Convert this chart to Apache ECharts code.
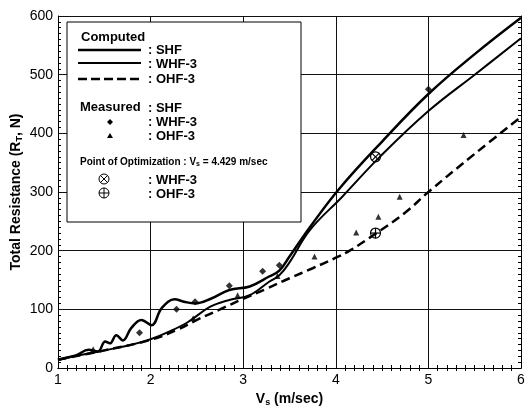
<!DOCTYPE html>
<html>
<head>
<meta charset="utf-8">
<script src="https://cdn.jsdelivr.net/npm/echarts@6/dist/echarts.min.js"></script>
<style>
  html, body { margin: 0; padding: 0; background: #fff; }
  #my_chart { width: 529px; height: 408px; }
</style>
</head>
<body>
<div id="my_chart"></div>
<script>
// computed curves
var shfX = [1.0, 1.1, 1.2, 1.33, 1.43, 1.51, 1.56, 1.63, 1.70, 1.79, 1.90, 2.01, 2.12, 2.26, 2.36, 2.48, 2.65, 2.85, 3.07, 3.28, 3.39, 3.5, 3.72, 4.04, 4.5, 5.0, 5.5, 6.0];
var shfY = [14, 18, 22, 31, 28, 45, 42, 56, 47, 68, 82, 73, 102, 117, 113, 110, 118, 133, 139, 156, 166, 190, 240, 306, 386, 467, 535, 597];
var whfX = [1.0, 1.2, 1.4, 1.6, 1.8, 2.0, 2.2, 2.4, 2.64, 2.85, 3.07, 3.28, 3.39, 3.5, 3.72, 4.07, 4.47, 5.0, 5.5, 6.0];
var whfY = [14, 21, 27, 33, 40, 49, 62, 78, 104, 116, 124, 147, 158, 180, 235, 292, 359, 438, 500, 562];
var ohfX = [1.0, 1.5, 2.0, 2.3, 2.5, 2.75, 3.0, 3.25, 3.5, 3.75, 4.0, 4.15, 4.43, 4.75, 5.0, 5.5, 6.0];
var ohfY = [14, 30, 48, 66, 82, 100, 118, 135, 153, 170, 188, 200, 229, 265, 300, 365, 428];

// measured
var whfMx = [1.88, 2.28, 2.48, 2.85, 3.21, 3.39, 5.0];
var whfMy = [60, 100, 113, 140, 165, 175, 475];
var ohfMx = [1.38, 2.46, 2.94, 3.37, 3.77, 4.22, 4.46, 4.69, 5.38];
var ohfMy = [32, 85, 124, 157, 190, 231, 258, 292, 397];

// point of optimization (Vs = 4.429)
var optX = 4.429;
var optWhf = 360;
var optOhf = 230;

var xTicks = [1, 2, 3, 4, 5, 6];
var yTicks = [0, 100, 200, 300, 400, 500, 600];

function pairs(xs, ys) {
    var out = [];
    for (var i = 0; i < xs.length; i++) out.push([xs[i], ys[i]]);
    return out;
}

var FONT = 'Liberation Sans, Arial, sans-serif';

function axisBase(pos, min, max, interval, minorN, showLabel) {
    return {
        type: 'value', position: pos, min: min, max: max, interval: interval,
        axisLine: { show: true, lineStyle: { color: '#000', width: 1 } },
        axisTick: { show: false, inside: true },
        minorTick: { show: true, splitNumber: minorN, length: 3, lineStyle: { color: '#000', width: 1 } },
        splitLine: { show: showLabel, lineStyle: { color: '#111', width: 1 } },
        axisLabel: { show: showLabel, color: '#000', fontSize: 14, fontFamily: FONT, margin: 5 }
    };
}

var myChart = echarts.init(document.getElementById('my_chart'), null, { renderer: 'canvas' });

var xMain = axisBase('bottom', xTicks[0], xTicks[xTicks.length - 1], 1, 10, true);
xMain.name = '{b|V}{s|s}{b| (m/sec)}';
xMain.nameLocation = 'middle';
xMain.nameGap = 21;
xMain.nameTextStyle = {
    rich: {
        b: { fontSize: 14, fontWeight: 'bold', fontFamily: FONT, color: '#000' },
        s: { fontSize: 9, fontWeight: 'bold', fontFamily: FONT, color: '#000', padding: [7, 0, 0, 0] }
    }
};
var xTop = axisBase('top', xTicks[0], xTicks[xTicks.length - 1], 1, 10, false);

var yMain = axisBase('left', yTicks[0], yTicks[yTicks.length - 1], 100, 10, true);
yMain.name = '{b|Total Resistance (R}{s|T}{b|, N)}';
yMain.nameLocation = 'middle';
yMain.nameGap = 34;
yMain.nameMoveOverlap = false;
yMain.nameTextStyle = {
    rich: {
        b: { fontSize: 14, fontWeight: 'bold', fontFamily: FONT, color: '#000' },
        s: { fontSize: 9, fontWeight: 'bold', fontFamily: FONT, color: '#000', padding: [7, 0, 0, 0] }
    }
};
var yRight = axisBase('right', yTicks[0], yTicks[yTicks.length - 1], 100, 10, false);

// legend block drawn by hand (matches the printed key)
var LX = 67, LY = 22;
function txt(x, y, s, size, rich) {
    var st = { x: x, y: y, text: s, fill: '#000', font: 'bold ' + size + 'px ' + FONT, verticalAlign: 'middle' };
    if (rich) st.rich = rich;
    return { type: 'text', z: 100, style: st };
}
var subRich = {
    n: { fontSize: 10, fontWeight: 'bold', fontFamily: FONT, fill: '#000' },
    s: { fontSize: 7, fontWeight: 'bold', fontFamily: FONT, fill: '#000', padding: [5, 0, 0, 0] }
};
var legendGraphic = [
    { type: 'rect', z: 99, shape: { x: LX, y: LY, width: 234, height: 200 },
      style: { fill: '#fff', stroke: '#000', lineWidth: 1 } },
    txt(81, 37, 'Computed', 13),
    { type: 'line', z: 100, shape: { x1: 78, y1: 50, x2: 141, y2: 50 }, style: { stroke: '#000', lineWidth: 2.5 } },
    { type: 'line', z: 100, shape: { x1: 78, y1: 63, x2: 141, y2: 63 }, style: { stroke: '#000', lineWidth: 2 } },
    { type: 'line', z: 100, shape: { x1: 78, y1: 79, x2: 141, y2: 79 }, style: { stroke: '#000', lineWidth: 2.5, lineDash: [9, 4] } },
    txt(148, 50, ': SHF', 13),
    txt(148, 64, ': WHF-3', 13),
    txt(148, 79, ': OHF-3', 13),
    txt(80, 107, 'Measured', 13),
    txt(148, 108, ': SHF', 13),
    { type: 'polygon', z: 100, shape: { points: [[110, 119], [113, 122], [110, 125], [107, 122]] }, style: { fill: '#000' } },
    txt(148, 122, ': WHF-3', 13),
    { type: 'polygon', z: 100, shape: { points: [[110, 133], [113, 138], [107, 138]] }, style: { fill: '#000' } },
    txt(148, 136, ': OHF-3', 13),
    { type: 'text', z: 100, style: { x: 80, y: 162, verticalAlign: 'middle',
        text: '{n|Point of Optimization : V}{s|s}{n| = 4.429 m/sec}', rich: subRich } },
    { type: 'circle', z: 100, shape: { cx: 104, cy: 179, r: 5 }, style: { fill: 'none', stroke: '#000', lineWidth: 1 } },
    { type: 'line', z: 100, shape: { x1: 100.5, y1: 175.5, x2: 107.5, y2: 182.5 }, style: { stroke: '#000', lineWidth: 1 } },
    { type: 'line', z: 100, shape: { x1: 107.5, y1: 175.5, x2: 100.5, y2: 182.5 }, style: { stroke: '#000', lineWidth: 1 } },
    txt(148, 180, ': WHF-3', 13),
    { type: 'circle', z: 100, shape: { cx: 104, cy: 193, r: 5 }, style: { fill: 'none', stroke: '#000', lineWidth: 1 } },
    { type: 'line', z: 100, shape: { x1: 99, y1: 193, x2: 109, y2: 193 }, style: { stroke: '#000', lineWidth: 1 } },
    { type: 'line', z: 100, shape: { x1: 104, y1: 188, x2: 104, y2: 198 }, style: { stroke: '#000', lineWidth: 1 } },
    txt(148, 194, ': OHF-3', 13)
];

function optMark(params, api) {
    var p = api.coord([api.value(0), api.value(1)]);
    var r = 5, d = 3.5;
    var kids = [
        { type: 'circle', shape: { cx: p[0], cy: p[1], r: r }, style: { fill: 'none', stroke: '#000', lineWidth: 1.2 } }
    ];
    if (api.value(2) === 1) {
        kids.push({ type: 'line', shape: { x1: p[0] - d, y1: p[1] - d, x2: p[0] + d, y2: p[1] + d }, style: { stroke: '#000', lineWidth: 1.2 } });
        kids.push({ type: 'line', shape: { x1: p[0] + d, y1: p[1] - d, x2: p[0] - d, y2: p[1] + d }, style: { stroke: '#000', lineWidth: 1.2 } });
    } else {
        kids.push({ type: 'line', shape: { x1: p[0] - r, y1: p[1], x2: p[0] + r, y2: p[1] }, style: { stroke: '#000', lineWidth: 1.2 } });
        kids.push({ type: 'line', shape: { x1: p[0], y1: p[1] - r, x2: p[0], y2: p[1] + r }, style: { stroke: '#000', lineWidth: 1.2 } });
    }
    return { type: 'group', children: kids };
}

var option = {
    animation: false,
    backgroundColor: '#fff',
    grid: { left: 58, right: 8, top: 16, bottom: 40, show: false, outerBoundsMode: 'none', containLabel: false },
    xAxis: [xMain, xTop],
    yAxis: [yMain, yRight],
    graphic: legendGraphic,
    series: [
        { name: 'SHF', type: 'line', data: pairs(shfX, shfY), smooth: 0.4, symbol: 'none',
          lineStyle: { color: '#000', width: 2.5 } },
        { name: 'WHF-3', type: 'line', data: pairs(whfX, whfY), smooth: 0.4, symbol: 'none',
          lineStyle: { color: '#000', width: 2 } },
        { name: 'OHF-3', type: 'line', data: pairs(ohfX, ohfY), smooth: 0.4, symbol: 'none',
          lineStyle: { color: '#000', width: 2.5, type: [9, 5] } },
        { name: 'WHF-3 measured', type: 'scatter', data: pairs(whfMx, whfMy), symbol: 'diamond',
          symbolSize: 7, itemStyle: { color: '#000' } },
        { name: 'OHF-3 measured', type: 'scatter', data: pairs(ohfMx, ohfMy), symbol: 'triangle',
          symbolSize: 6, itemStyle: { color: '#000' } },
        { name: 'optimization', type: 'custom', renderItem: optMark,
          data: [[optX, optWhf, 1], [optX, optOhf, 0]], z: 10 }
    ]
};
myChart.setOption(option);
</script>
</body>
</html>
